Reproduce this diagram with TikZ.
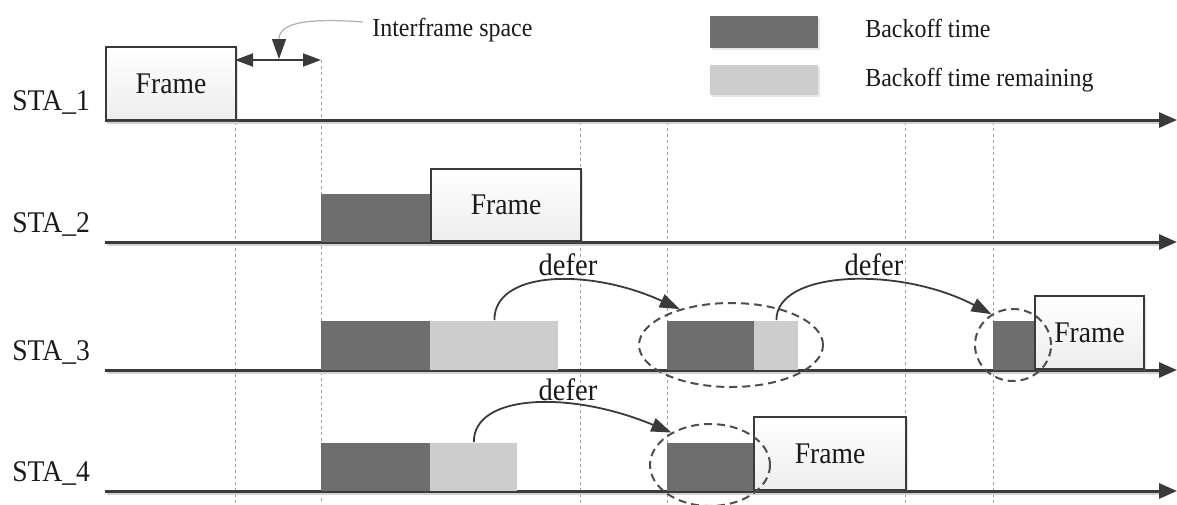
\documentclass[tikz,border=0pt]{standalone}
\usepackage{fontspec}
\setmainfont[FakeStretch=0.92]{Liberation Serif}
\usetikzlibrary{arrows.meta,shapes.geometric,shadows,calc}
\definecolor{ink}{HTML}{3A3A3A}
\definecolor{darkfill}{HTML}{6E6E6E}
\definecolor{lightfill}{HTML}{CDCDCD}
\definecolor{gridgray}{HTML}{A0A0A0}
\definecolor{txt}{HTML}{1A1A1A}
\definecolor{callout}{HTML}{B0B0B0}
\tikzset{
  wh/.style 2 args={minimum width=#1*0.5pt, minimum height=#2*0.5pt},
  timeline/.style={draw=ink, line width=1.5pt, -{Triangle[length=9pt,width=7.5pt]}},
  tlshadow/.style={draw=gray!35, line width=1pt},
  framebox/.style={draw=ink, line width=1pt, top color=white, bottom color=gray!14, anchor=south west, inner sep=0pt, text=txt, font=\fontsize{15pt}{18pt}\selectfont, drop shadow={shadow xshift=1pt, shadow yshift=-1pt, opacity=0.25}},
  darkbox/.style={fill=darkfill, anchor=south west, inner sep=0pt},
  lightbox/.style={fill=lightfill, anchor=south west, inner sep=0pt},
  legbox/.style={anchor=south west, inner sep=0pt, drop shadow={shadow xshift=1pt, shadow yshift=-1pt, opacity=0.2}},
  stalabel/.style={anchor=base west, text=txt, inner sep=0pt, font=\fontsize{15pt}{18pt}\selectfont},
  legtext/.style={anchor=base west, text=txt, inner sep=0pt, font=\fontsize{13pt}{16pt}\selectfont},
  defertext/.style={text=txt, inner sep=0pt, font=\fontsize{15.5pt}{18pt}\selectfont},
  grid/.style={draw=gridgray, line width=0.5pt, dash pattern=on 1.5pt off 1.5pt},
  groupring/.style={ellipse, draw=ink!90, line width=1pt, dash pattern=on 4pt off 2.5pt, inner sep=0pt},
  deferarrow/.style={draw=ink, line width=0.9pt, -{Triangle[length=10pt,width=7pt]}},
  ifsarrow/.style={draw=ink, line width=1pt, {Triangle[length=9pt,width=6.5pt]}-{Triangle[length=9pt,width=6.5pt]}},
  calloutline/.style={draw=callout, line width=0.6pt, -{Triangle[length=10pt,width=7pt,color=ink]}}
}
\begin{document}
\begin{tikzpicture}[x=0.5pt,y=-0.5pt]
\useasboundingbox (0,0) rectangle (1177,504);

% dashed time grid
\draw[grid] (235,122) -- (235,504);
\draw[grid] (321,60) -- (321,504);
\foreach \gx in {580,667,905,993} {\draw[grid] (\gx,122) -- (\gx,504);}

% timelines
\foreach \ty/\nm in {120/1,242/2,370/3,491/4} {
  \coordinate (t\nm s) at (105,\ty);
  \coordinate (t\nm e) at (1177,\ty);
  \draw[tlshadow] (107,\ty+2.5) -- (1160,\ty+2.5);
  \draw[timeline] (t\nm s) -- (t\nm e);
}

% station labels
\node[stalabel] (s1) at (12,110) {STA\_1};
\node[stalabel] (s2) at (12,232) {STA\_2};
\node[stalabel] (s3) at (12,360) {STA\_3};
\node[stalabel] (s4) at (12,481) {STA\_4};

% STA_1
\node[framebox, wh={130}{73}] (f1) at (105,121) {Frame};

% interframe space
\coordinate (ifa1) at (235,60);
\coordinate (ifa2) at (321,60);
\draw[ifsarrow] (ifa1) -- (ifa2);
\node[legtext] (ifs) at (372,36) {Interframe space};
\coordinate (ifsc) at (363,22);
\coordinate (ifsp) at (279,59);
\draw[calloutline] (ifsc) .. controls (310,18) and (279,22) .. (ifsp);

% legend
\node[legbox, fill=darkfill, wh={108}{32}] (lg1) at (710,48) {};
\node[legbox, fill=lightfill, wh={108}{30}] (lg2) at (710,95) {};
\node[legtext] (lt1) at (865,37) {Backoff time};
\node[legtext] (lt2) at (865,86) {Backoff time remaining};

% STA_2
\node[darkbox, wh={109}{48}] (d2) at (321,242) {};
\node[framebox, wh={150}{72}] (f2) at (430,242) {Frame};

% STA_3
\node[darkbox, wh={109}{49}] (d3a) at (321,370) {};
\node[lightbox, wh={128}{49}] (l3a) at (430,370) {};
\node[darkbox, wh={87}{49}] (d3b) at (667,370) {};
\node[lightbox, wh={44}{49}] (l3b) at (754,370) {};
\node[framebox, wh={109}{73}] (f3) at (1034,370) {Frame};
\node[darkbox, wh={41}{49}] (d3c) at (993,370) {};
\node[groupring, wh={184}{84}] (e1) at (731,345) {};
\node[groupring, wh={76}{72}] (e2) at (1013,345) {};

% STA_4
\node[darkbox, wh={109}{48}] (d4a) at (321,491) {};
\node[lightbox, wh={87}{48}] (l4a) at (430,491) {};
\node[framebox, wh={152}{73}] (f4) at (753,491) {Frame};
\node[darkbox, wh={86}{48}] (d4b) at (667,491) {};
\node[groupring, wh={120}{82}] (e3) at (710,465) {};

% defer arrows
\node[defertext] (df1) at (568,265) {defer};
\node[defertext] (df2) at (874,265) {defer};
\node[defertext] (df3) at (568,390) {defer};
\draw[deferarrow] (l3a.north) .. controls (494,270) and (590,268) .. (e1.145);
\draw[deferarrow] (l3b.north) .. controls (776,270) and (900,266) .. (e2.125);
\draw[deferarrow] (l4a.north) .. controls (473,394) and (570,390) .. (e3.140);
\end{tikzpicture}
\end{document}
